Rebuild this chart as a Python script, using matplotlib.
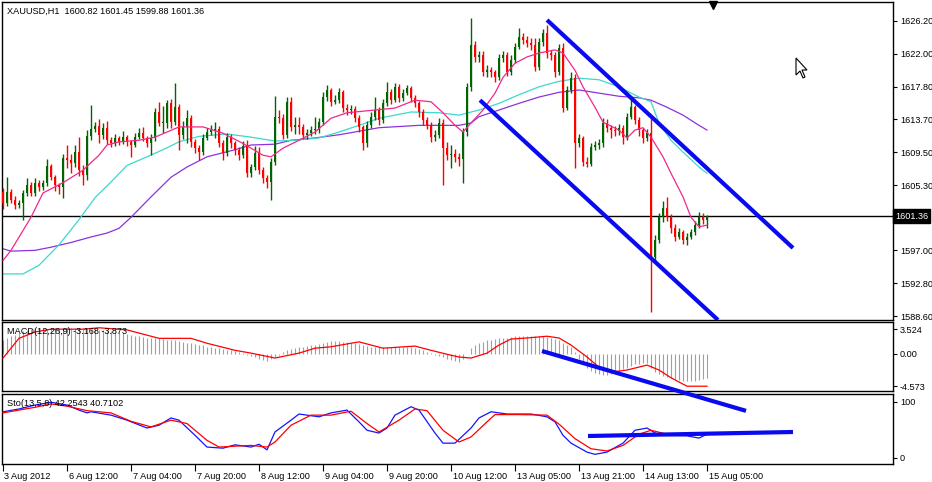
import matplotlib
matplotlib.use("Agg")
import matplotlib.pyplot as plt
import matplotlib.transforms as mtransforms
from matplotlib.patches import Polygon
import numpy as np

# ---------------- data ----------------
symbol_title = "XAUUSD,H1  1600.82 1601.45 1599.88 1601.36"
macd_title = "MACD(12,26,9) -3.168 -3.873"
stoch_title = "Sto(13,5,8) 42.2543 40.7102"

first_open = 1604.4
closes = [1603.0, 1604.4, 1603.4, 1602.8, 1603.0, 1604.3, 1605.3, 1604.3, 1605.6, 1605.0,
          1605.6, 1607.7, 1606.3, 1605.3, 1605.0, 1608.7, 1608.5, 1608.1, 1609.5, 1607.2,
          1606.6, 1611.5, 1612.4, 1612.8, 1611.7, 1612.6, 1611.0, 1610.6, 1611.3, 1610.8,
          1611.4, 1610.8, 1610.4, 1611.4, 1611.9, 1611.3, 1610.6, 1611.3, 1614.6, 1613.2,
          1613.2, 1615.7, 1613.3, 1615.2, 1611.7, 1612.7, 1613.8, 1610.8, 1610.0, 1609.5,
          1611.3, 1612.0, 1612.3, 1612.4, 1610.6, 1609.4, 1611.4, 1610.6, 1609.75, 1609.1,
          1610.3, 1606.8, 1607.6, 1609.4, 1607.2, 1606.2, 1605.7, 1608.2, 1613.95, 1613.8,
          1611.7, 1615.9, 1612.7, 1613.0, 1612.7, 1611.7, 1611.9, 1612.3, 1612.3, 1613.3,
          1616.5, 1617.4, 1615.9, 1616.1, 1617.1, 1615.1, 1614.85, 1615.0, 1613.8, 1612.7,
          1610.6, 1613.0, 1614.0, 1614.85, 1613.6, 1615.7, 1617.1, 1616.1, 1617.8, 1616.4,
          1617.0, 1617.6, 1616.4, 1615.7, 1614.6, 1613.6, 1613.0, 1611.4, 1611.7, 1613.2,
          1610.0, 1609.1, 1609.3, 1608.9, 1608.6, 1612.0, 1617.8, 1623.1, 1621.6, 1621.8,
          1619.7, 1619.9, 1619.7, 1619.0, 1621.5, 1621.8, 1619.7, 1621.2, 1622.9, 1624.1,
          1623.75, 1623.4, 1623.1, 1620.3, 1623.5, 1624.6, 1622.1, 1621.8, 1619.7, 1622.75,
          1615.1, 1617.4, 1618.9, 1610.6, 1611.3, 1608.3, 1608.0, 1610.1, 1610.4, 1610.6,
          1613.2, 1612.6, 1612.3, 1612.2, 1612.6, 1611.4, 1614.0, 1615.2, 1613.6, 1612.3,
          1611.3, 1611.9, 1596.1, 1598.3, 1601.2, 1602.4, 1601.2, 1599.8, 1598.7, 1599.3,
          1598.3, 1598.7, 1599.3, 1600.2, 1601.2, 1600.82, 1601.36]
highs = [1604.9, 1606.3, 1604.8, 1603.9, 1603.4, 1604.7, 1606.2, 1605.7, 1606.2, 1606.0,
         1606.0, 1608.6, 1608.0, 1606.6, 1605.6, 1609.2, 1610.4, 1609.2, 1610.4, 1611.4,
         1607.9, 1612.3, 1615.5, 1613.3, 1613.7, 1613.2, 1613.4, 1611.4, 1611.8, 1611.6,
         1612.2, 1611.7, 1611.0, 1611.9, 1612.6, 1612.7, 1611.6, 1611.8, 1615.1, 1615.9,
         1615.3, 1616.1, 1616.3, 1618.3, 1615.6, 1613.4, 1614.8, 1614.2, 1611.1, 1610.4,
         1611.8, 1612.5, 1612.9, 1613.3, 1612.8, 1611.0, 1611.9, 1611.8, 1610.9, 1610.1,
         1610.9, 1611.0, 1608.0, 1610.3, 1610.1, 1607.6, 1606.6, 1608.8, 1616.6, 1614.9,
         1614.3, 1616.5, 1616.5, 1613.9, 1614.0, 1613.1, 1612.4, 1612.8, 1614.0, 1613.8,
         1617.2, 1618.0, 1617.6, 1616.8, 1617.6, 1617.4, 1615.6, 1615.5, 1615.3, 1614.2,
         1613.0, 1613.5, 1614.6, 1616.5, 1615.2, 1616.2, 1618.4, 1617.5, 1618.3, 1618.2,
         1617.5, 1618.0, 1617.9, 1616.8, 1616.0, 1615.0, 1614.0, 1613.3, 1612.3, 1613.8,
         1613.7, 1610.8, 1610.4, 1609.9, 1609.4, 1612.6, 1618.3, 1626.5, 1623.6, 1622.3,
         1622.4, 1620.6, 1620.3, 1620.0, 1622.0, 1622.3, 1622.2, 1621.8, 1623.4, 1625.3,
         1624.6, 1624.3, 1624.0, 1624.0, 1624.0, 1625.1, 1625.7, 1622.5, 1622.2, 1623.3,
         1623.4, 1617.9, 1619.7, 1619.4, 1611.8, 1611.6, 1608.9, 1610.6, 1610.9, 1611.1,
         1613.8, 1613.7, 1613.0, 1612.8, 1613.1, 1612.9, 1614.5, 1616.3, 1615.5, 1614.0,
         1612.6, 1612.4, 1613.8, 1598.9, 1601.8, 1603.3, 1603.8, 1601.6, 1600.3, 1599.8,
         1599.6, 1599.2, 1599.7, 1600.7, 1601.9, 1601.8, 1601.45]
lows = [1602.3, 1602.7, 1603.0, 1602.2, 1602.4, 1600.85, 1603.9, 1603.9, 1603.9, 1604.6,
        1604.7, 1605.2, 1605.9, 1604.6, 1604.2, 1603.6, 1607.5, 1606.8, 1607.6, 1606.5,
        1605.3, 1606.0, 1611.0, 1612.0, 1610.6, 1611.2, 1610.5, 1610.2, 1610.3, 1610.4,
        1610.5, 1610.3, 1608.9, 1610.2, 1611.2, 1610.9, 1610.1, 1609.1, 1610.9, 1612.8,
        1611.9, 1612.6, 1612.6, 1613.0, 1609.75, 1611.2, 1610.6, 1610.2, 1609.4, 1608.5,
        1609.1, 1611.0, 1611.7, 1611.3, 1610.1, 1608.5, 1609.0, 1610.0, 1609.1, 1608.5,
        1608.8, 1606.3, 1606.3, 1607.2, 1606.7, 1605.6, 1604.9, 1603.4, 1607.8, 1613.2,
        1611.1, 1611.3, 1612.2, 1611.8, 1611.8, 1611.2, 1611.1, 1611.5, 1611.8, 1611.9,
        1613.0, 1616.0, 1615.4, 1615.6, 1615.8, 1614.6, 1614.2, 1614.4, 1613.3, 1612.0,
        1609.75, 1610.2, 1612.6, 1613.6, 1613.0, 1613.2, 1615.4, 1615.6, 1615.9, 1615.9,
        1616.0, 1616.7, 1615.9, 1615.2, 1614.0, 1613.0, 1612.4, 1610.8, 1610.9, 1611.3,
        1605.3, 1608.5, 1607.5, 1608.3, 1607.7, 1605.6, 1611.6, 1617.3, 1621.0, 1621.0,
        1619.2, 1619.0, 1619.1, 1618.4, 1618.7, 1621.0, 1619.2, 1619.3, 1620.8, 1622.6,
        1623.2, 1622.9, 1622.5, 1619.8, 1620.0, 1623.0, 1621.5, 1621.2, 1619.1, 1619.3,
        1614.6, 1614.8, 1617.0, 1607.5, 1610.2, 1607.7, 1607.6, 1607.7, 1609.8, 1609.9,
        1610.2, 1612.1, 1611.3, 1611.6, 1611.7, 1610.5, 1611.0, 1613.7, 1613.1, 1611.6,
        1610.7, 1610.9, 1589.2, 1595.4, 1597.9, 1600.6, 1600.7, 1599.2, 1598.2, 1598.4,
        1597.8, 1597.7, 1598.4, 1599.0, 1599.9, 1600.3, 1599.88]
last_price = 1601.36

# moving averages (bar index, value)
ma_fast_idx = [0, 2, 7, 10, 15, 20, 24, 26, 29, 34, 38, 41, 44, 50, 55, 60, 65, 67, 70, 74,
               78, 82, 86, 93, 98, 103, 107, 110, 113, 115, 117, 120, 123, 125, 128, 131, 134, 138, 140, 143,
               145, 148, 150, 154, 156, 158, 160, 162, 165, 167, 170, 172, 174, 176]
ma_fast_val = [1595.7, 1597.0, 1601.2, 1604.3, 1605.6, 1607.2, 1609.1, 1610.4, 1610.8, 1611.0,
               1611.4, 1612.05, 1612.7, 1612.7, 1611.9, 1610.6, 1609.1, 1608.9, 1610.0, 1611.0,
               1612.05, 1613.8, 1614.5, 1614.85, 1615.1, 1616.1, 1615.9, 1614.5, 1612.9, 1612.05,
               1613.2, 1614.85, 1617.0, 1619.0, 1620.8, 1621.6, 1622.1, 1622.5, 1622.1, 1619.9,
               1617.8, 1615.2, 1613.3, 1612.3, 1611.3, 1612.3, 1612.6, 1611.4, 1608.9, 1606.8,
               1603.8, 1601.2, 1600.0, 1600.2]
ma_mid_idx = [0, 5, 9, 14, 19, 23, 27, 31, 36, 40, 44, 49, 56, 62, 68, 73, 79, 84, 89, 94,
              102, 109, 114, 119, 124, 129, 134, 139, 144, 149, 154, 159, 162, 164, 167, 170, 174, 176]
ma_mid_val = [1594.0, 1594.0, 1595.1, 1597.7, 1600.9, 1603.7, 1605.7, 1607.8, 1608.9, 1609.8,
              1610.8, 1611.5, 1611.8, 1611.4, 1610.9, 1611.0, 1611.3, 1612.05, 1612.9, 1613.8,
              1614.6, 1614.5, 1614.2, 1614.85, 1615.7, 1616.8, 1617.8, 1618.5, 1618.9, 1618.7,
              1617.8, 1616.5, 1615.9, 1613.2, 1611.0, 1609.5, 1607.6, 1606.8]
ma_slow_idx = [0, 2, 8, 12, 17, 22, 26, 29, 32, 37, 42, 46, 51, 58, 62, 68, 72, 78, 84, 94,
               104, 114, 117, 119, 124, 129, 134, 139, 144, 149, 154, 159, 162, 166, 170, 174, 176]
ma_slow_val = [1597.2, 1596.9, 1597.0, 1597.4, 1598.0, 1598.7, 1599.2, 1599.8, 1601.2, 1603.8,
               1606.3, 1607.6, 1608.9, 1609.8, 1610.4, 1610.5, 1611.0, 1611.3, 1611.7, 1612.6,
               1612.9, 1612.9, 1613.2, 1614.0, 1614.85, 1615.7, 1616.5, 1617.1, 1617.4, 1617.0,
               1616.6, 1616.4, 1616.1, 1615.2, 1614.2, 1612.9, 1612.3]

# MACD histogram (one value per bar) and signal line
macd_hist = [2.0, 2.2, 2.5, 2.7, 3.0, 3.2, 3.4, 3.5, 3.6, 3.6,
             3.6, 3.5, 3.6, 3.6, 3.5, 3.6, 3.7, 3.6, 3.6, 3.7,
             3.7, 3.6, 3.5, 3.5, 3.4, 3.4, 3.3, 3.2, 3.1, 3.0,
             2.9, 2.8, 2.7, 2.6, 2.5, 2.4, 2.3, 2.3, 2.3, 2.2,
             2.1, 2.0, 1.9, 1.9, 1.8, 1.7, 1.6, 1.5, 1.4, 1.3,
             1.2, 1.0, 0.9, 0.8, 0.8, 0.7, 0.6, 0.5, 0.4, 0.3,
             0.1, -0.1, -0.3, -0.5, -0.7, -0.9, -1.0, -0.8, -0.5, -0.1,
             0.2, 0.5, 0.7, 0.8, 0.9, 1.0, 1.1, 1.2, 1.3, 1.4,
             1.6, 1.7, 1.8, 1.8, 1.8, 1.7, 1.7, 1.6, 1.5, 1.4,
             1.2, 1.1, 1.0, 1.0, 0.9, 0.9, 0.9, 0.9, 1.0, 1.0,
             1.0, 1.0, 0.9, 0.8, 0.7, 0.5, 0.3, 0.1, -0.1, -0.3,
             -0.5, -0.7, -0.9, -1.0, -1.1, -0.8, 0.0, 0.8, 1.2, 1.5,
             1.7, 1.9, 2.0, 2.1, 2.2, 2.3, 2.3, 2.4, 2.5, 2.6,
             2.6, 2.6, 2.6, 2.5, 2.5, 2.5, 2.4, 2.3, 2.1, 2.0,
             1.6, 1.3, 1.0, 0.2, -0.8, -1.5, -2.0, -2.4, -2.7, -2.9,
             -3.0, -3.0, -2.9, -2.7, -2.5, -2.2, -2.0, -1.7, -1.5, -1.4,
             -1.3, -1.3, -2.0, -2.6, -2.9, -3.1, -3.3, -3.5, -3.6, -3.7,
             -3.8, -3.9, -3.9, -3.8, -3.7, -3.6, -3.4]
macd_sig_idx = [0, 2, 4, 8, 12, 20, 24, 31, 39, 47, 51, 58, 62, 68, 74, 78, 82, 89, 95, 103,
                107, 112, 114, 117, 121, 124, 127, 131, 136, 139, 142, 146, 149, 152, 156, 161, 164, 167, 171, 176]
macd_sig_val = [-0.6, 0.8, 2.2, 3.1, 3.5, 3.5, 3.7, 3.4, 2.2, 2.2,
                1.5, 0.5, 0.1, -0.6, 0.1, 0.8, 1.0, 1.7, 0.8, 1.1,
                0.5, -0.2, -0.45, -0.6, 0.1, 1.25, 2.1, 2.25, 2.5, 2.25,
                1.25, -0.45, -1.9, -2.6, -2.3, -1.6, -2.3, -3.4, -4.6, -4.6]
macd_ticks = [3.524, 0.0, -4.573]
macd_tick_labels = ["3.524", "0.00", "-4.573"]

# Stochastic main and signal
sto_main_idx = [0, 4, 8, 12, 16, 19, 21, 22, 27, 31, 36, 39, 42, 44, 48, 51, 55, 58, 62, 64,
                66, 68, 72, 74, 79, 82, 86, 89, 91, 94, 96, 98, 102, 104, 108, 110, 113, 117, 119, 122,
                126, 132, 136, 138, 140, 142, 146, 148, 151, 155, 158, 161, 164, 171, 174, 176]
sto_main_val = [82, 87, 94, 99, 94, 85, 80, 82, 76, 67, 53, 58, 71, 67, 40, 19, 17, 23, 19, 24,
                14, 46, 67, 78, 73, 80, 85, 64, 49, 44, 53, 76, 91, 85, 44, 26, 26, 53, 71, 82,
                78, 78, 73, 64, 40, 26, 10, 6, 10, 26, 49, 53, 40, 39, 35, 42]
sto_sig_idx = [0, 8, 12, 16, 21, 27, 32, 37, 42, 46, 51, 54, 62, 66, 68, 72, 77, 82, 87, 91,
               94, 99, 103, 106, 110, 114, 117, 121, 123, 129, 136, 139, 143, 147, 151, 155, 159, 162, 166, 176]
sto_sig_val = [80, 90, 96, 92, 84, 80, 65, 55, 67, 61, 31, 19, 22, 19, 28, 58, 76, 76, 83, 61,
               46, 67, 87, 84, 49, 28, 37, 64, 77, 77, 76, 60, 34, 16, 12, 22, 42, 49, 42, 41]

price_ticks = [1626.20, 1622.00, 1617.80, 1613.70, 1609.50, 1605.30, 1597.00, 1592.80, 1588.60]
time_tick_idx = [0, 16, 32, 48, 64, 80, 96, 112, 128, 144, 160, 176]
time_labels = ["3 Aug 2012", "6 Aug 12:00", "7 Aug 04:00", "7 Aug 20:00", "8 Aug 12:00",
               "9 Aug 04:00", "9 Aug 20:00", "10 Aug 12:00", "13 Aug 05:00", "13 Aug 21:00",
               "14 Aug 13:00", "15 Aug 05:00"]

# hand-drawn trend lines (bar index, value)
chan_upper = ([136, 197.5], [1626.3, 1597.3])
chan_lower = ([119.25, 178.75], [1616.1, 1588.14])
macd_trend = ([134.75, 185.75], [0.4, -8.1])
sto_trend = ([146.25, 197.5], [38.75, 45.9])

# ---------------- figure ----------------
W, H = 932, 482
plt.rcParams['font.family'] = ['Liberation Sans', 'DejaVu Sans']
FS = 6.6
GREEN = '#006400'
RED = '#ff0000'
BLUE = '#0a0af0'

fig = plt.figure(figsize=(W / 100, H / 100), dpi=100)
fig.patch.set_facecolor('white')


def rect(x0, y0, x1, y1):
    return [x0 / W, 1 - y1 / H, (x1 - x0) / W, (y1 - y0) / H]


ax = fig.add_axes(rect(2, 2, 893, 320))
axs = fig.add_axes(rect(2, 394, 893, 464))
axm = fig.add_axes(rect(2, 322, 893, 391))
axm.set_zorder(5)
axs.set_zorder(1)

XL = (-0.25, 222.5)
for a in (ax, axm, axs):
    a.set_xlim(*XL)
    a.set_facecolor('white')
    for s in a.spines.values():
        s.set_color('black')
        s.set_linewidth(1.0)
    a.yaxis.tick_right()
    a.tick_params(axis='y', direction='out', length=3, width=0.8, pad=2,
                  labelsize=FS, colors='black')

ax.set_ylim(1588.14, 1628.59)
axm.set_ylim(-5.28, 4.52)
axs.set_ylim(-11.25, 113.75)

# candles
n = len(closes)
idx = np.arange(n)
cl = np.array(closes)
op = np.array([first_open] + closes[:-1])
hi = np.array(highs)
lo = np.array(lows)
cols = np.where(cl >= op, GREEN, RED)
ax.vlines(idx, lo, hi, colors=cols, lw=1.0, zorder=3)
bot = np.minimum(op, cl)
hgt = np.maximum(np.abs(cl - op), 0.13)
ax.bar(idx, hgt, bottom=bot, width=0.72, color=cols, linewidth=0, zorder=4)

# moving averages
ax.plot(ma_slow_idx, ma_slow_val, color='#8c32dc', lw=0.9, zorder=2)
ax.plot(ma_mid_idx, ma_mid_val, color='#3cd8cc', lw=0.9, zorder=2)
ax.plot(ma_fast_idx, ma_fast_val, color='#f0288c', lw=0.9, zorder=5)

# current price line and label
ax.axhline(last_price, color='black', lw=1.0, zorder=1)
btr = mtransforms.blended_transform_factory(ax.transAxes, ax.transData)
ax.text(1.0 + 2 / 891, last_price, f"{last_price:.2f}", transform=btr, ha='left', va='center',
        color='white', fontsize=FS, zorder=10, clip_on=False,
        bbox=dict(boxstyle='square,pad=0.25', facecolor='black', edgecolor='black'))

# channel lines
ax.plot(*chan_upper, color=BLUE, lw=3.0, solid_capstyle='butt', zorder=6)
ax.plot(*chan_lower, color=BLUE, lw=3.0, solid_capstyle='butt', zorder=6)

ax.set_yticks(price_ticks)
ax.set_yticklabels([f"{v:.2f}" for v in price_ticks])
ax.set_xticks([])
ax.text(5 / 891, 1 - 5 / 318, symbol_title, transform=ax.transAxes, ha='left', va='top',
        fontsize=FS, color='black')

# shift marker (triangle) at top
tri_tr = mtransforms.blended_transform_factory(ax.transData, ax.transAxes)
ax.plot([177.5], [1 - 3 / 318], marker='v', color='black', ms=5.5, transform=tri_tr,
        clip_on=False, zorder=10)

# MACD
axm.vlines(idx, 0, macd_hist, colors='#a0a0a0', lw=0.8, zorder=2)
axm.plot(macd_sig_idx, macd_sig_val, color=RED, lw=0.9, zorder=3)
axm.plot(*macd_trend, color=BLUE, lw=3.0, solid_capstyle='butt', clip_on=False, zorder=20)
axm.set_yticks(macd_ticks)
axm.set_yticklabels(macd_tick_labels)
axm.set_xticks([])
axm.text(5 / 891, 1 - 5 / 69, macd_title, transform=axm.transAxes, ha='left', va='top',
         fontsize=FS, color='black')

# Stochastic
axs.plot(sto_main_idx, sto_main_val, color='#1414ff', lw=0.9, zorder=3)
axs.plot(sto_sig_idx, sto_sig_val, color=RED, lw=0.9, zorder=3)
axs.plot(*sto_trend, color=BLUE, lw=3.0, solid_capstyle='butt', zorder=6)
axs.set_yticks([100, 0])
axs.set_yticklabels(["100", "0"])
axs.text(5 / 891, 1 - 5 / 70, stoch_title, transform=axs.transAxes, ha='left', va='top',
         fontsize=FS, color='black')
axs.set_xticks(time_tick_idx)
axs.set_xticklabels(time_labels)
axs.tick_params(axis='x', direction='out', length=5, width=0.8, pad=1, labelsize=FS)
off = mtransforms.ScaledTranslation(1.5 / 100, 0, fig.dpi_scale_trans)
for lab in axs.get_xticklabels():
    lab.set_ha('left')
    lab.set_transform(lab.get_transform() + off)

# mouse cursor
cur = np.array([[0, 0], [0, 17], [4, 13], [7, 20], [9, 19], [6, 12], [11, 12]], dtype=float)
cur[:, 0] += 796
cur[:, 1] += 58
pts = np.column_stack([cur[:, 0] / W, 1 - cur[:, 1] / H])
fig.patches.append(Polygon(pts, closed=True, facecolor='white', edgecolor='black', lw=0.8,
                           transform=fig.transFigure, figure=fig))

fig.savefig('out.png', dpi=100, facecolor='white')
